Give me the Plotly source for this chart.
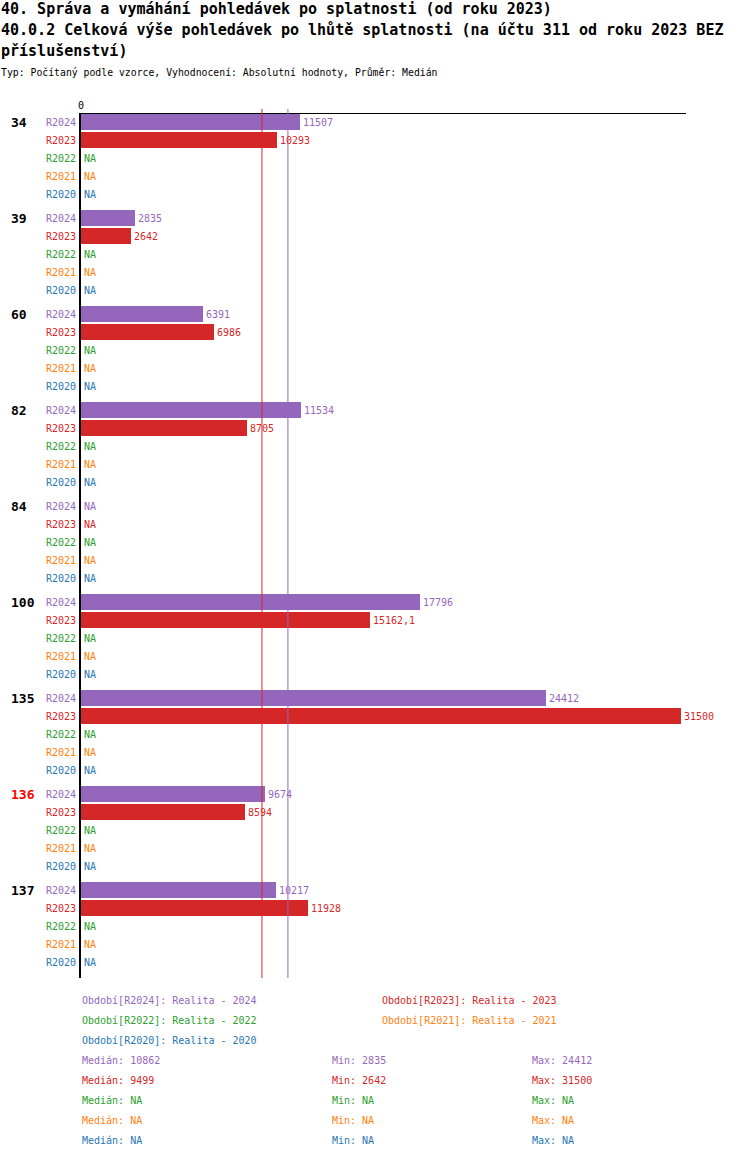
import numpy as np
import plotly.graph_objects as go

# data
groups = ['34', '39', '60', '82', '84', '100', '135', '136', '137']
series = ['R2024', 'R2023', 'R2022', 'R2021', 'R2020']
series_names = ['Realita - 2024', 'Realita - 2023', 'Realita - 2022', 'Realita - 2021', 'Realita - 2020']
colors = ['#9467bd', '#d62728', '#2ca02c', '#ff7f0e', '#1f77b4']

r2024 = [11507, 2835, 6391, 11534, None, 17796, 24412, 9674, 10217]
r2023 = [10293, 2642, 6986, 8705, None, 15162.1, 31500, 8594, 11928]
r2022 = [None] * 9
r2021 = [None] * 9
r2020 = [None] * 9
values = [r2024, r2023, r2022, r2021, r2020]

highlight = '136'

title1 = '40. Správa a vymáhání pohledávek po splatnosti (od roku 2023)'
title2 = '40.0.2 Celková výše pohledávek po lhůtě splatnosti (na účtu 311 od roku 2023 BEZ'
title3 = 'příslušenství)'
subtitle = 'Typ: Počítaný podle vzorce, Vyhodnocení: Absolutní hodnoty, Průměr: Medián'

FONT = 'DejaVu Sans Mono'
ROW = 18
GAP = 6
GROUP = ROW * len(series) + GAP


def fmt(v):
    if v is None:
        return 'NA'
    if float(v).is_integer():
        return str(int(v))
    return str(v).replace('.', ',')


fig = go.Figure()
annotations = []

for si, name in enumerate(series):
    ys = [gi * GROUP + si * ROW + 8 for gi in range(len(groups))]
    vals = values[si]
    fig.add_trace(go.Bar(
        x=[v if v is not None else 0 for v in vals], y=ys, orientation='h',
        width=16, marker=dict(color=colors[si], line=dict(width=0)),
        hoverinfo='skip', showlegend=False,
    ))
    for v, y in zip(vals, ys):
        # value label right of the bar
        annotations.append(dict(
            x=v if v is not None else 0, y=y, xref='x', yref='y', text=fmt(v),
            showarrow=False, xanchor='left', yanchor='middle', xshift=1,
            font=dict(family=FONT, size=10, color=colors[si]),
        ))
        # series label left of the axis
        annotations.append(dict(
            x=0, y=y, xref='x', yref='y', text=name, showarrow=False,
            xanchor='right', yanchor='middle', xshift=-3,
            font=dict(family=FONT, size=10, color=colors[si]),
        ))

for gi, g in enumerate(groups):
    annotations.append(dict(
        x=-0.119, y=gi * GROUP + 8, xref='paper', yref='y', text='<b>%s</b>' % g,
        showarrow=False, xanchor='left', yanchor='middle',
        font=dict(family=FONT, size=13, color='#ff0000' if g == highlight else 'black'),
    ))

# median lines
shapes = []
stats = []
for si in range(len(series)):
    vals = [v for v in values[si] if v is not None]
    if vals:
        med = float(np.median(vals))
        shapes.append(dict(type='line', x0=med, x1=med, xref='x', yref='paper',
                           y0=0, y1=1.006, line=dict(color=colors[si], width=1)))
        stats.append((fmt(med), fmt(min(vals)), fmt(max(vals))))
    else:
        stats.append(('NA', 'NA', 'NA'))


# page pixel -> paper coordinates (plot area spans x 81..686, y 114..978)
def px(x):
    return (x - 81) / 605.0


def py(y):
    return (978 - y) / 864.0


# legend texts
leg_pos = [(80, 1000), (380, 1000), (80, 1020), (380, 1020), (80, 1040)]
for si, (lx, ly) in enumerate(leg_pos):
    annotations.append(dict(
        x=px(lx), y=py(ly), xref='paper', yref='paper',
        text='Období[%s]: %s' % (series[si], series_names[si]), showarrow=False,
        xanchor='left', yanchor='middle', font=dict(family=FONT, size=10, color=colors[si]),
    ))

for si, (med, mn, mx) in enumerate(stats):
    ly = 1060 + si * 20
    for lx, txt in [(80, 'Medián: ' + med), (330, 'Min: ' + mn), (530, 'Max: ' + mx)]:
        annotations.append(dict(
            x=px(lx), y=py(ly), xref='paper', yref='paper', text=txt, showarrow=False,
            xanchor='left', yanchor='middle', font=dict(family=FONT, size=10, color=colors[si]),
        ))

# titles
for txt, ty, size, bold in [(title1, 9, 15, True), (title2, 30, 15, True),
                            (title3, 51, 15, True), (subtitle, 73, 9.8, False)]:
    annotations.append(dict(
        x=px(-1), y=py(ty), xref='paper', yref='paper',
        text='<b>%s</b>' % txt if bold else txt, showarrow=False,
        xanchor='left', yanchor='middle', font=dict(family=FONT, size=size, color='black'),
    ))

fig.update_layout(
    width=750, height=1158,
    margin=dict(l=81, r=64, t=114, b=180),
    paper_bgcolor='white', plot_bgcolor='white',
    barmode='overlay', bargap=0,
    font=dict(family=FONT, size=10, color='black'),
    xaxis=dict(range=[0, 31760], side='top', tickvals=[0], ticktext=['0'],
               showgrid=False, zeroline=False, showline=True, linecolor='black',
               linewidth=1, ticks='', tickfont=dict(family=FONT, size=10),
               fixedrange=True),
    yaxis=dict(range=[864, 0], showticklabels=False, showgrid=False, zeroline=False,
               showline=True, linecolor='black', linewidth=2, ticks='', fixedrange=True),
    shapes=shapes,
    annotations=annotations,
)

# drop the browser's default body margin so the figure sits at the page corner
fig.write_html('out.html', config={'displayModeBar': False},
               post_script="document.body.style.margin='0';")
